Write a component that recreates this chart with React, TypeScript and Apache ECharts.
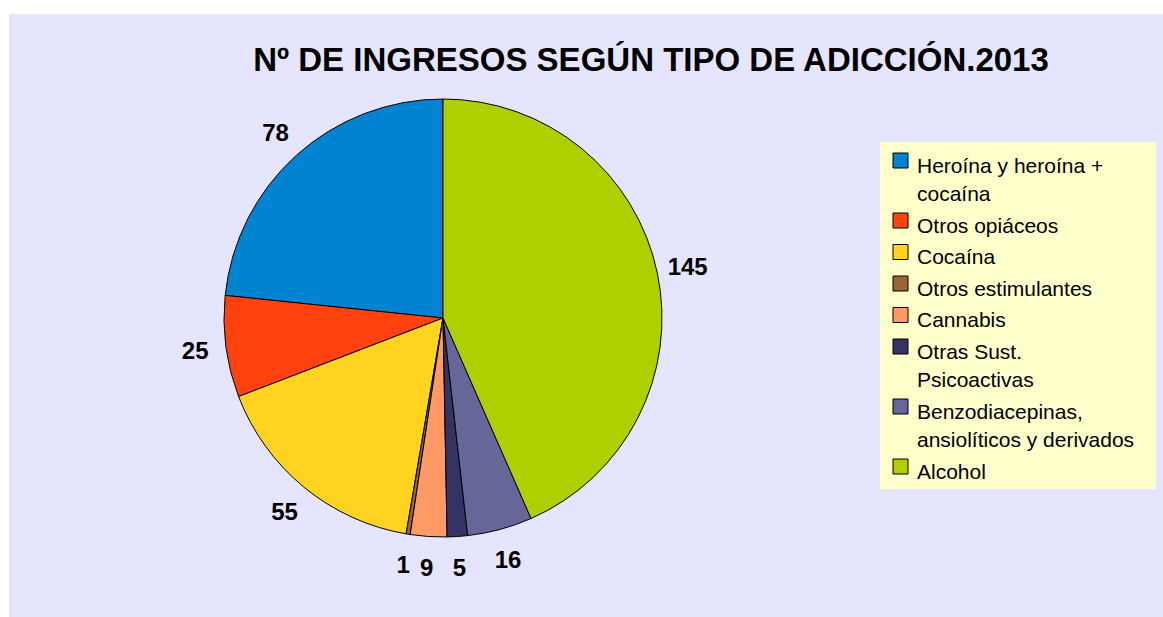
import React, { useEffect, useRef } from "react";
import * as echarts from "echarts";

const titleText = "Nº DE INGRESOS SEGÚN TIPO DE ADICCIÓN.2013";
const categories = [
  "Heroína y heroína + cocaína",
  "Otros opiáceos",
  "Cocaína",
  "Otros estimulantes",
  "Cannabis",
  "Otras Sust. Psicoactivas",
  "Benzodiacepinas, ansiolíticos y derivados",
  "Alcohol",
];
const legendLabels = [
  "Heroína y heroína +\ncocaína",
  "Otros opiáceos",
  "Cocaína",
  "Otros estimulantes",
  "Cannabis",
  "Otras Sust.\nPsicoactivas",
  "Benzodiacepinas,\nansiolíticos y derivados",
  "Alcohol",
];
const values = [78, 25, 55, 1, 9, 5, 16, 145];
const colors = [
  "#0084D1",
  "#FF420E",
  "#FFD320",
  "#996633",
  "#FF9966",
  "#333366",
  "#666699",
  "#AECF00",
];

const FONT = "'Liberation Sans', Arial, sans-serif";

export default function App() {
  const ref = useRef<HTMLDivElement>(null);
  useEffect(() => {
    if (!ref.current) return;
    const chart = echarts.init(ref.current, undefined, { renderer: "svg" });
    const data = categories.map((name, i) => ({
      name,
      value: values[i],
      itemStyle: { color: colors[i] },
    }));

    const legendX = 893;
    const lineH = 28.5;
    const itemGap = 31.5;
    const legendItems: any[] = [];
    let y = 165;
    legendLabels.forEach((lbl, i) => {
      const nLines = lbl.split("\n").length;
      legendItems.push({
        type: "rect",
        shape: { x: legendX, y: y - 12, width: 15, height: 15 },
        style: { fill: colors[i], stroke: "#000", lineWidth: 1 },
        z: 12,
      });
      legendItems.push({
        type: "text",
        x: 917,
        y: y - lineH / 2,
        style: {
          text: lbl,
          fontFamily: FONT,
          fontSize: 21,
          lineHeight: lineH,
          fill: "#000",
          verticalAlign: "top",
          align: "left",
        },
        z: 12,
      });
      y += itemGap + lineH * (nLines - 1);
    });

    chart.setOption({
      animation: false,
      backgroundColor: "#ffffff",
      title: {
        text: titleText,
        left: 646,
        top: 38,
        textAlign: "center",
        textStyle: {
          fontFamily: FONT,
          fontSize: 33,
          fontWeight: "bold",
          color: "#000",
        },
      },
      graphic: [
        {
          type: "rect",
          shape: { x: 9, y: 14, width: 1160, height: 610 },
          style: { fill: "#E5E5FD" },
          z: -10,
          silent: true,
        },
        {
          type: "rect",
          shape: { x: 880, y: 142, width: 276, height: 347 },
          style: { fill: "#FFFFCC" },
          z: 11,
          silent: true,
        },
        ...legendItems,
      ],
      series: [
        {
          type: "pie",
          center: [443, 318],
          radius: 219,
          startAngle: 90,
          clockwise: false,
          data,
          label: { show: false },
          labelLine: { show: false },
          itemStyle: { borderColor: "#000", borderWidth: 1 },
          emphasis: { disabled: true },
          silent: true,
        },
        {
          type: "pie",
          center: [443, 318],
          radius: [219, 275],
          startAngle: 90,
          clockwise: false,
          data: categories.map((name, i) => ({ name, value: values[i] })),
          itemStyle: { color: "transparent", borderWidth: 0 },
          label: {
            show: true,
            position: "inside",
            formatter: "{c}",
            fontFamily: FONT,
            fontSize: 24,
            fontWeight: "bold",
            color: "#000",
          },
          labelLine: { show: false },
          emphasis: { disabled: true },
          silent: true,
        },
      ],
    });
    return () => chart.dispose();
  }, []);
  return (
    <div
      ref={ref}
      style={{ position: "fixed", left: 0, top: 0, width: 1163, height: 617 }}
    />
  );
}
